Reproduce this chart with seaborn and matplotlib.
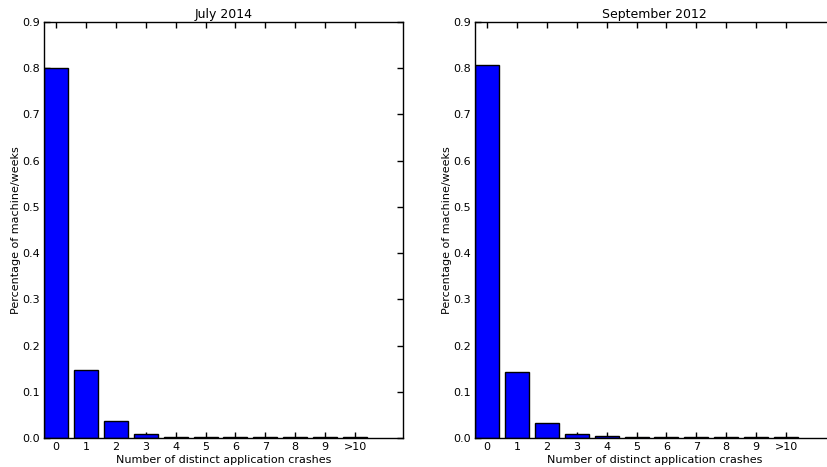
import matplotlib
matplotlib.use("Agg")
import matplotlib.pyplot as plt
import seaborn as sns
import pandas as pd

sns.set_style("ticks")
plt.rcParams['font.family'] = ['DejaVu Sans']
plt.rcParams['text.color'] = 'black'
plt.rcParams['axes.labelcolor'] = 'black'

categories = ["0", "1", "2", "3", "4", "5", "6", "7", "8", "9", ">10"]
july_2014 = [0.801, 0.148, 0.036, 0.009, 0.003, 0.002, 0.0015, 0.0015, 0.0015, 0.0015, 0.0015]
sept_2012 = [0.806, 0.143, 0.032, 0.008, 0.004, 0.0025, 0.002, 0.0015, 0.0015, 0.0015, 0.0015]
titles = ["July 2014", "September 2012"]
yticks = [0.0, 0.1, 0.2, 0.3, 0.4, 0.5, 0.6, 0.7, 0.8, 0.9]

W, H = 828, 467
fig = plt.figure(figsize=(W / 100, H / 100), dpi=100)
bottom = 29 / H
height = 416 / H
width = 359 / W
lefts = [44 / W, 475 / W]

for left, vals, title in zip(lefts, [july_2014, sept_2012], titles):
    ax = fig.add_axes([left, bottom, width, height])
    df = pd.DataFrame({"crashes": categories, "pct": vals})
    sns.barplot(data=df, x="crashes", y="pct", ax=ax, color="#0000ff",
                saturation=1, edgecolor="black", linewidth=1.0, width=0.8)
    ax.set_xlim(-0.4, 11.6)
    ax.set_ylim(0, 0.9)
    ax.set_yticks(yticks)
    ax.set_yticklabels([f"{t:.1f}" for t in yticks])
    ax.set_title(title, fontsize=9, pad=3, color="black")
    ax.set_xlabel("Number of distinct application crashes", fontsize=8, labelpad=2, color="black")
    ax.set_ylabel("Percentage of machine/weeks", fontsize=8, labelpad=1, color="black")
    ax.tick_params(direction="in", top=True, right=True, length=4, width=1,
                   labelsize=8, colors="black", pad=3)
    for s in ax.spines.values():
        s.set_visible(True)
        s.set_color("black")
        s.set_linewidth(1.0)

fig.savefig("out.png", dpi=100)
